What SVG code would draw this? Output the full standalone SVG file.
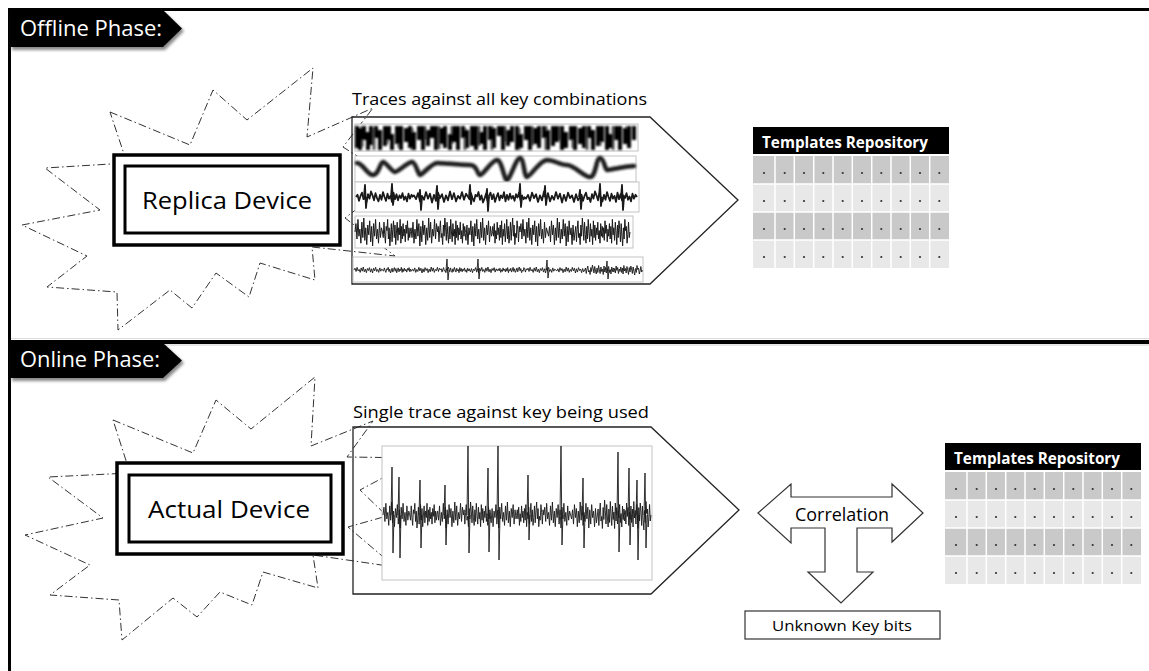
<svg xmlns="http://www.w3.org/2000/svg" xmlns:xlink="http://www.w3.org/1999/xlink" width="1149" height="671" viewBox="0 0 1149 671">
  <style>
    text { font-family: "Open Sans", "Noto Sans", "DejaVu Sans", sans-serif; }
    .burst { fill: none; stroke: #333; stroke-width: 1; stroke-dasharray: 8 3 1.5 3; }
    .dev-outer { fill: #fff; stroke: #000; stroke-width: 3.5; }
    .dev-inner { fill: #fff; stroke: #000; stroke-width: 3; }
    .dev-label { font-size: 23px; fill: #000; }
    .panel { fill: none; stroke: #222; stroke-width: 1.3; }
    .frame { fill: #fff; stroke: #c4c4c4; stroke-width: 1; }
    .sig { fill: none; stroke: #1a1a1a; stroke-linejoin: round; }
    .caption { font-size: 17px; fill: #000; }
    .banner { fill: #000; }
    .banner-shadow { fill: #888; }
    .banner-text { font-size: 21px; fill: #fff; }
    .repo-title { font-size: 15.5px; font-weight: bold; fill: #fff; }
    .row-dark { fill: #c9c9c9; }
    .row-light { fill: #e8e8e8; }
    .grid { fill: none; stroke: #fff; stroke-width: 1.5; }
    .dot { fill: #333; }
    .shape { fill: #fff; stroke: #333; stroke-width: 1.2; }
    .label { fill: #000; }
  </style>
  <defs>
    <filter id="soft" x="-10%" y="-30%" width="120%" height="160%">
      <feGaussianBlur stdDeviation="1.5"/>
    </filter>
    <filter id="grain" x="-5%" y="-20%" width="110%" height="140%">
      <feGaussianBlur stdDeviation="0.8"/>
    </filter>
    <!-- reusable noise segments, both start and end on y = 0 -->
    <polyline id="n1" fill="none" vector-effect="non-scaling-stroke"
      points="0,0 2,-6 4,5 6,-9 8,3 10,-2 12,8 14,-7 16,4 18,-10 20,6 22,-3 24,9 26,-5 28,2 30,-8 32,7 34,-4 36,10 38,-6 40,3 42,-9 44,5 46,-2 48,8 50,-7 52,4 54,-3 56,0"/>
    <polyline id="n2" fill="none" vector-effect="non-scaling-stroke"
      points="0,0 1.5,-4 3,7 4.5,-2 6,-8 7.5,4 9,1 10.5,9 12,-5 13.5,3 15,-10 16.5,-3 18,6 19.5,-7 21,2 22.5,8 24,-4 25.5,5 27,-9 28.5,0 30,7 31.5,-6 33,3 34.5,-2 36,9 37.5,-8 39,4 40.5,-5 42,6 43.5,-3 45,2 46.5,-7 48,5 49.5,-1 51,8 52.5,-6 54,3 55.5,-4 57,0"/>
    <!-- one row of cell dots -->
    <g id="dotrow">
      <circle class="dot" cx="11" cy="0" r="1.1"/>
      <circle class="dot" cx="31.7" cy="0" r="1.1"/>
      <circle class="dot" cx="51" cy="0" r="1.1"/>
      <circle class="dot" cx="70.3" cy="0" r="1.1"/>
      <circle class="dot" cx="89.7" cy="0" r="1.1"/>
      <circle class="dot" cx="109" cy="0" r="1.1"/>
      <circle class="dot" cx="128.3" cy="0" r="1.1"/>
      <circle class="dot" cx="147.7" cy="0" r="1.1"/>
      <circle class="dot" cx="167" cy="0" r="1.1"/>
      <circle class="dot" cx="186.3" cy="0" r="1.1"/>
    </g>
    <!-- template table -->
    <g id="repo">
      <rect width="196" height="27" fill="#000"/>
      <text class="repo-title" x="9" y="21" textLength="166" lengthAdjust="spacingAndGlyphs">Templates Repository</text>
      <rect class="row-dark" y="29" width="196" height="28"/>
      <rect class="row-light" y="57" width="196" height="28"/>
      <rect class="row-dark" y="85" width="196" height="28"/>
      <rect class="row-light" y="113" width="196" height="28"/>
      <path class="grid" d="M22,29V141 M41.3,29V141 M60.7,29V141 M80,29V141 M99.3,29V141 M118.7,29V141 M138,29V141 M157.3,29V141 M176.7,29V141 M0,57H196 M0,85H196 M0,113H196"/>
      <use xlink:href="#dotrow" href="#dotrow" y="46"/>
      <use xlink:href="#dotrow" href="#dotrow" y="74"/>
      <use xlink:href="#dotrow" href="#dotrow" y="102"/>
      <use xlink:href="#dotrow" href="#dotrow" y="130"/>
    </g>
  </defs>

  <rect width="1149" height="671" fill="#fff"/>

  <!-- outer frame and phase divider -->
  <g id="frame">
    <path d="M8,9.5H1149" fill="none" stroke="#000" stroke-width="3"/>
    <path d="M9.5,8V671" fill="none" stroke="#000" stroke-width="3"/>
    <path d="M11,338.5H1149" fill="none" stroke="#ddd" stroke-width="1"/>
    <path d="M8,342H1149" fill="none" stroke="#000" stroke-width="4"/>
    <path d="M11,345H1149" fill="none" stroke="#ccc" stroke-width="1"/>
  </g>

  <!-- phase banners -->
  <g id="offline-banner">
    <polygon class="banner-shadow" filter="url(#soft)" points="12,13 165,13 184,31 165,50 12,50"/>
    <polygon class="banner" points="10,10 163,10 182,28.5 163,47 10,47"/>
    <text class="banner-text" x="20" y="36" textLength="142" lengthAdjust="spacingAndGlyphs">Offline Phase:</text>
  </g>
  <g id="online-banner">
    <polygon class="banner-shadow" filter="url(#soft)" points="12,346 165,346 184,363 165,381 12,381"/>
    <polygon class="banner" points="10,343 163,343 182,360.5 163,378 10,378"/>
    <text class="banner-text" x="20" y="367" textLength="140" lengthAdjust="spacingAndGlyphs">Online Phase:</text>
  </g>

  <!-- emission bursts around the devices -->
  <g id="offline-burst">
    <polygon class="burst" points="110,112 190,145 213,90 247,120 313,68 307,137 373,108 343,147 395,180 345,218 395,256 312,247 315,280 260,263 249,297 216,273 192,308 170,290 118,330 117,292 47,287 87,256 22,225 100,210 45,168 127,163"/>
  </g>
  <g id="online-burst">
    <polygon class="burst" points="113,420 193,453 216,400 251,429 315,377 311,446 373,421 347,457 420,458 360,490 387,516 348,527 395,567 313,555 318,588 263,572 252,605 220,592 197,617 173,598 122,640 119,600 50,595 90,565 25,535 103,518 48,477 130,473"/>
  </g>

  <!-- offline trace collection -->
  <g id="offline-traces">
    <text class="caption" x="352" y="105" textLength="295" lengthAdjust="spacingAndGlyphs">Traces against all key combinations</text>
    <path class="panel" d="M352,117H650L738,200L650,284H352Z"/>

    <rect class="frame" x="355" y="124" width="283" height="27"/>
    <g filter="url(#grain)">
      <path fill="none" stroke="#555" stroke-width="3" d="M362,126V147 M374,128V150 M387,126V144 M399,126V148 M412,128V150 M425,126V140 M439,126V149 M452,126V144 M465,128V150 M479,126V146 M492,126V150 M505,126V142 M519,128V150 M532,126V146 M546,126V150 M560,126V140 M573,126V148 M587,126V150 M600,128V146 M613,126V150 M627,126V142"/>
      <path fill="none" stroke="#000" stroke-width="4" d="M357,126V148 M360,128V150 M364,126V140 M368,132V150 M371,126V145 M376,126V138 M380,130V150 M385,126V146 M389,126V140 M392,134V150 M397,126V144 M401,126V150 M406,128V142 M410,126V148 M414,132V150 M419,126V140 M423,126V150 M428,130V146 M432,126V138 M436,126V150 M441,128V144 M445,126V148 M450,134V150 M454,126V142 M458,126V150 M463,126V138 M467,130V148 M472,126V146 M476,126V150 M481,132V144 M485,126V150 M490,126V140 M494,128V148 M499,126V136 M503,126V150 M508,130V146 M512,126V142 M517,126V150 M521,134V148 M526,126V140 M530,126V150 M535,128V144 M539,126V148 M544,126V138 M548,130V150 M553,126V146 M557,126V142 M562,126V150 M566,132V148 M571,126V140 M575,126V150 M580,128V144 M584,126V148 M589,126V138 M593,130V150 M598,126V146 M602,126V142 M607,126V150 M611,134V148 M616,126V140 M620,126V150 M625,128V144 M629,126V148 M634,126V140"/>
    </g>

    <rect class="frame" x="355" y="156" width="281" height="26"/>
    <path class="sig" filter="url(#grain)" stroke="#222" stroke-width="4.5" stroke-linecap="round" d="M357,163 C363,163 367,175 373,175 S380,162 383,162 S392,172 395,172 S408,162 412,162 S418,175 420,175 S432,163 437,163 S462,165 470,165 S477,175 480,175 S492,160 497,160 S504,180 507,180 S516,158 520,158 S524,177 527,177 S540,160 547,160 S560,165 567,165 S584,177 590,177 S596,158 600,158 S605,170 607,170 S626,166 634,166"/>

    <rect class="frame" x="355" y="182" width="284" height="30"/>
    <g class="sig" stroke-width="1.8">
      <use xlink:href="#n2" href="#n2" transform="translate(356,197) scale(1,0.55)"/>
      <use xlink:href="#n1" href="#n1" transform="translate(468,197) scale(-1,0.55)"/>
      <use xlink:href="#n2" href="#n2" transform="translate(468,197) scale(1,-0.55)"/>
      <use xlink:href="#n1" href="#n1" transform="translate(580,197) scale(-1,-0.55)"/>
      <use xlink:href="#n2" href="#n2" transform="translate(580,197) scale(1,0.55)"/>
      <path d="M364,197L365,185L366,208L367,197 M391,197L392,184L393,205L394,197 M419,197L420,190L421,210L422,197 M436,197L437,186L438,209L439,197 M469,197L470,185L471,204L472,197 M486,197L487,189L488,211L489,197 M519,197L520,184L521,207L522,197 M544,197L545,186L546,205L547,197 M579,197L580,190L581,209L582,197 M599,197L600,184L601,206L602,197 M621,197L622,185L623,210L624,197"/>
    </g>

    <rect class="frame" x="355" y="216" width="278" height="32"/>
    <g class="sig" stroke-width="1">
      <use xlink:href="#n1" href="#n1" transform="translate(355,232) scale(0.49,1.4)"/>
      <use xlink:href="#n2" href="#n2" transform="translate(382.5,232) scale(0.49,-1.4)"/>
      <use xlink:href="#n1" href="#n1" transform="translate(437.5,232) scale(-0.49,1.4)"/>
      <use xlink:href="#n2" href="#n2" transform="translate(437.5,232) scale(0.49,1.4)"/>
      <use xlink:href="#n1" href="#n1" transform="translate(465,232) scale(0.49,-1.4)"/>
      <use xlink:href="#n2" href="#n2" transform="translate(520,232) scale(-0.49,1.4)"/>
      <use xlink:href="#n1" href="#n1" transform="translate(520,232) scale(0.49,1.4)"/>
      <use xlink:href="#n1" href="#n1" transform="translate(575,232) scale(-0.49,-1.4)"/>
      <use xlink:href="#n2" href="#n2" transform="translate(575,232) scale(0.49,1.4)"/>
      <use xlink:href="#n2" href="#n2" transform="translate(630,232) scale(-0.49,-1.4)"/>
    </g>

    <rect class="frame" x="353" y="257" width="290" height="25"/>
    <g class="sig" stroke-width="0.9">
      <use xlink:href="#n1" href="#n1" transform="translate(354,270) scale(0.515,0.3)"/>
      <use xlink:href="#n2" href="#n2" transform="translate(382.8,270) scale(0.515,-0.3)"/>
      <use xlink:href="#n1" href="#n1" transform="translate(440.5,270) scale(-0.515,0.3)"/>
      <use xlink:href="#n2" href="#n2" transform="translate(440.5,270) scale(0.515,0.3)"/>
      <use xlink:href="#n1" href="#n1" transform="translate(469.4,270) scale(0.515,-0.3)"/>
      <use xlink:href="#n2" href="#n2" transform="translate(527,270) scale(-0.515,0.3)"/>
      <use xlink:href="#n1" href="#n1" transform="translate(527,270) scale(0.515,0.3)"/>
      <use xlink:href="#n1" href="#n1" transform="translate(584.7,270) scale(-0.515,-0.3)"/>
      <use xlink:href="#n2" href="#n2" transform="translate(584.7,270) scale(0.515,0.5)"/>
      <use xlink:href="#n2" href="#n2" transform="translate(642.4,270) scale(-0.515,-0.5)"/>
      <path d="M446,270L447,259L448,280L449,270 M477,270L478,259L479,279L480,270 M546,270L547,260L548,278L549,270 M606,270L607,261L608,279L609,270"/>
    </g>
  </g>

  <!-- online single trace -->
  <g id="online-trace">
    <text class="caption" x="353" y="418" textLength="296" lengthAdjust="spacingAndGlyphs">Single trace against key being used</text>
    <path class="panel" d="M353,427H651L739,510L651,594H353Z"/>
    <rect class="frame" x="382" y="446" width="270" height="134"/>
    <g class="sig" stroke="#2a2a2a" stroke-width="0.9">
      <use xlink:href="#n1" href="#n1" transform="translate(383,515) scale(0.478,1.3)"/>
      <use xlink:href="#n2" href="#n2" transform="translate(409.8,515) scale(0.478,-1.3)"/>
      <use xlink:href="#n1" href="#n1" transform="translate(463.4,515) scale(-0.478,1.3)"/>
      <use xlink:href="#n2" href="#n2" transform="translate(463.4,515) scale(0.478,1.3)"/>
      <use xlink:href="#n1" href="#n1" transform="translate(490.2,515) scale(0.478,-1.3)"/>
      <use xlink:href="#n2" href="#n2" transform="translate(543.8,515) scale(-0.478,1.3)"/>
      <use xlink:href="#n1" href="#n1" transform="translate(543.8,515) scale(0.478,1.3)"/>
      <use xlink:href="#n1" href="#n1" transform="translate(597.4,515) scale(-0.478,-1.3)"/>
      <use xlink:href="#n2" href="#n2" transform="translate(597.4,515) scale(0.478,1.5)"/>
      <use xlink:href="#n2" href="#n2" transform="translate(651,515) scale(-0.478,-1.5)"/>
      <path d="M391,515L392,467L393,553L394,515 M398,515L399,477L400,558L401,515 M419,515L420,480L421,548L422,515 M444,515L445,485L446,545L447,515 M467,515L468,446L469,553L470,515 M487,515L488,468L489,552L490,515 M497,515L498,446L499,560L500,515 M527,515L528,475L529,540L530,515 M560,515L561,446L562,545L563,515 M582,515L583,478L584,548L585,515 M617,515L618,452L619,552L620,515 M628,515L629,468L630,545L631,515 M636,515L637,480L638,560L639,515 M644,515L645,473L646,548L647,515"/>
    </g>
  </g>

  <!-- devices -->
  <g id="replica-device">
    <rect class="dev-outer" x="114" y="155" width="226" height="90"/>
    <rect class="dev-inner" x="125" y="166" width="203" height="67"/>
    <text class="dev-label" x="142" y="209" textLength="170" lengthAdjust="spacingAndGlyphs">Replica Device</text>
  </g>
  <g id="actual-device">
    <rect class="dev-outer" x="117" y="463" width="226" height="91"/>
    <rect class="dev-inner" x="129" y="475" width="202" height="67"/>
    <text class="dev-label" x="148" y="518" textLength="162" lengthAdjust="spacingAndGlyphs">Actual Device</text>
  </g>

  <!-- template repositories -->
  <g id="offline-repository">
    <use xlink:href="#repo" href="#repo" transform="translate(753,127)"/>
  </g>
  <g id="online-repository">
    <use xlink:href="#repo" href="#repo" transform="translate(945,443)"/>
  </g>

  <!-- correlation arrow joining trace, repository and key bits -->
  <g id="connectors">
    <polygon class="shape" points="758,513 791,484 791,497 892,497 892,484 923,513 892,542 892,528 857,528 857,572 873,572 841,603 808,572 825,572 825,528 791,528 791,543"/>
    <text class="label" x="795" y="521" font-size="18" textLength="94" lengthAdjust="spacingAndGlyphs">Correlation</text>
  </g>

  <g id="key-bits">
    <rect class="shape" x="745" y="611" width="195" height="28" stroke-width="1"/>
    <text class="label" x="772" y="631" font-size="15" textLength="140" lengthAdjust="spacingAndGlyphs">Unknown Key bits</text>
  </g>
</svg>
